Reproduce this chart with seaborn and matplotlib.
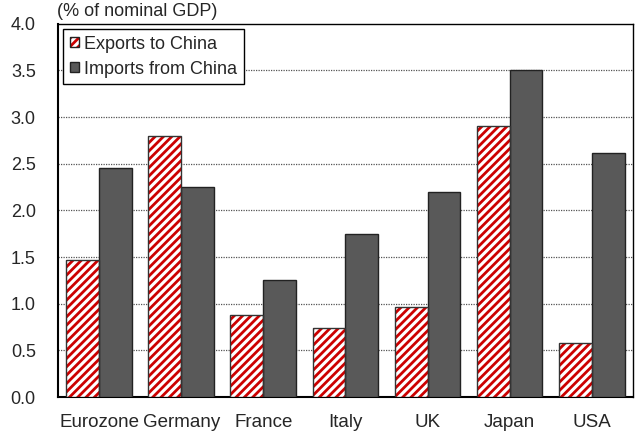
import matplotlib
matplotlib.use("Agg")
import matplotlib.pyplot as plt
from matplotlib.patches import Patch, Rectangle
from matplotlib.legend_handler import HandlerTuple
import seaborn as sns
import pandas as pd

countries = ["Eurozone", "Germany", "France", "Italy", "UK", "Japan", "USA"]
exports_to_china = [1.47, 2.80, 0.88, 0.74, 0.96, 2.90, 0.58]
imports_from_china = [2.45, 2.25, 1.25, 1.75, 2.20, 3.50, 2.62]
series_names = ["Exports to China", "Imports from China"]
y_ticks = [0.0, 0.5, 1.0, 1.5, 2.0, 2.5, 3.0, 3.5, 4.0]

sns.set_style("white")
plt.rcParams["font.family"] = ["Liberation Sans", "DejaVu Sans"]
plt.rcParams["hatch.linewidth"] = 2.0

RED = "#CC0000"
DARK = "#595959"

df = pd.DataFrame({
    "country": countries * 2,
    "value": exports_to_china + imports_from_china,
    "series": [series_names[0]] * len(countries) + [series_names[1]] * len(countries),
})

fig = plt.figure(figsize=(6.36, 4.33), dpi=100)
ax = fig.add_axes([0.0912, 0.083, 0.9038, 0.862])

sns.barplot(data=df, x="country", y="value", hue="series", order=countries,
            hue_order=series_names, palette=["white", DARK], width=0.8,
            edgecolor="black", linewidth=1.0, ax=ax, legend=False, zorder=3)

# hatch the export bars in red, keep a dark outline
for bar in ax.containers[0]:
    bar.set_edgecolor(RED)
    bar.set_linewidth(0)
    bar.set_hatch("////")
    outline = Rectangle(bar.get_xy(), bar.get_width(), bar.get_height(),
                        fill=False, edgecolor="#333333", linewidth=1.0, zorder=4)
    ax.add_patch(outline)
for bar in ax.containers[1]:
    bar.set_edgecolor("#222222")

ax.set_ylim(0, 4.0)
ax.set_xlim(-0.5, len(countries) - 0.5)
ax.set_yticks(y_ticks)
ax.set_yticklabels([f"{t:.1f}" for t in y_ticks], fontsize=13)
ax.set_xticks(range(len(countries)))
ax.set_xticklabels(countries, fontsize=13.5)
ax.set_xticks([i + 0.5 for i in range(len(countries) - 1)], minor=True)
ax.tick_params(axis="x", which="major", length=0, pad=12)
ax.tick_params(axis="x", which="minor", direction="in", length=5, width=1, color="black")
ax.tick_params(axis="y", which="major", direction="in", length=4, width=1, color="black", pad=16)
ax.set_xlabel("")
ax.set_ylabel("")

for y in y_ticks[1:-1]:
    ax.axhline(y, color="#555555", linestyle=(0, (1, 1)), linewidth=0.9, zorder=1)

for side in ["left", "right", "top", "bottom"]:
    ax.spines[side].set_visible(True)
    ax.spines[side].set_color("black")
ax.spines["left"].set_linewidth(1.5)
ax.spines["bottom"].set_linewidth(1.5)
ax.spines["top"].set_linewidth(1.0)
ax.spines["right"].set_linewidth(1.0)

h_exp = (Patch(facecolor="white", edgecolor=RED, hatch="////", linewidth=0),
         Patch(facecolor="none", edgecolor="#222222", linewidth=1.0))
h_imp = Patch(facecolor=DARK, edgecolor="#222222", linewidth=1.0)
leg = ax.legend([h_exp, h_imp], series_names, loc="upper left",
                handler_map={tuple: HandlerTuple(ndivide=1, pad=0)},
                fontsize=13, frameon=True, fancybox=False, framealpha=1,
                edgecolor="black", handlelength=0.5, handleheight=0.5,
                handletextpad=0.3, borderaxespad=0.3, borderpad=0.35,
                labelspacing=0.45)
leg.get_frame().set_linewidth(1.0)
leg.set_zorder(5)

fig.text(57 / 636, 1 - 12 / 433, "(% of nominal GDP)", fontsize=13,
         ha="left", va="center")

fig.savefig("out.png", dpi=100)
